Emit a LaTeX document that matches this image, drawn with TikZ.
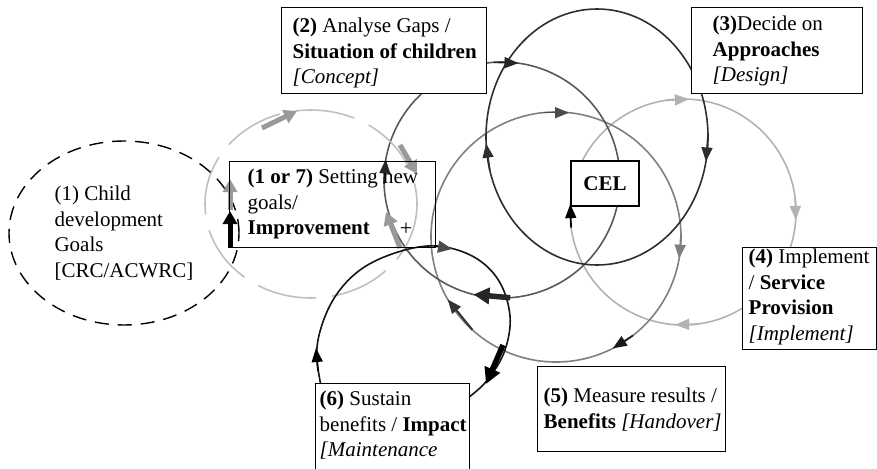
\documentclass[tikz,border=0pt]{standalone}
\usepackage{fontspec}
\setmainfont{Liberation Serif}
\usetikzlibrary{arrows.meta,calc,shapes.geometric}

% text block of a step box: width, height, left pad, drop to first baseline, lines
\newcommand{\stepcell}[5]{%
  \parbox[c][#2][t]{#1}{\raggedright\leftskip=#3\relax\rule{0pt}{#4}#5}}

\begin{document}
\begin{tikzpicture}[x=1pt,y=-1pt,
  font=\fontsize{21}{25.5}\selectfont,
  loopline/.style={line width=1.6pt},
  tip/.style={line width=1.6pt,-{Triangle[length=14pt,width=11pt]}},
  fatarrow/.style={line width=5.5pt,-{Triangle[length=16pt,width=16pt]}},
  grayarrow/.style={line width=5pt,black!40,-{Triangle[length=13pt,width=14pt]}},
  stepbox/.style={draw,line width=1.4pt,fill=white,inner sep=0pt,anchor=north west}]
\useasboundingbox (0,0) rectangle (877,468);

% centres of the cycles
\coordinate (c3) at (597,137);
\coordinate (cD) at (502,180);
\coordinate (cE) at (556,237);
\coordinate (cF) at (683,212);
\coordinate (cB) at (311,204);

% the cycles
\draw[loopline,black!30] (cF) circle (113);
\draw[loopline,black!50] (cE) circle (125);
\draw[loopline,black!65] (cD) circle (118);
\draw[loopline,black!82] (c3) ellipse (111 and 128);
\draw[loopline,black!25,dash pattern=on 60pt off 16pt] (cB) ellipse (106 and 94);
\draw[loopline,black!92] plot[smooth cycle,tension=0.6] coordinates {
  (437,246) (474,257) (499,281) (510,316) (505,350) (489,378) (468,398)
  (430,425) (370,428) (330,405) (319,375) (318,340) (333,300) (360,270) (398,252)};

% goals ellipse
\node[ellipse,draw,line width=1.4pt,dash pattern=on 14pt off 9pt,
      minimum width=230pt,minimum height=184pt,align=left] (goals) at (124,233)
  {(1) Child\\development\\Goals\\{[CRC/ACWRC]}};

% direction marks on the cycles
\draw[tip,black!82] ($(c3)+(165:111 and 128)$) -- ($(c3)+(177:111 and 128)$);
\draw[tip,black!82] ($(c3)+(-1:111 and 128)$) -- ($(c3)+(11:111 and 128)$);
\draw[tip,black!85] ($(cD)+(266:118)$) -- ($(cD)+(278:118)$);
\draw[tip,black!85] ($(cD)+(178:118)$) -- ($(cD)+(190:118)$);
\draw[fatarrow,black!85] ($(cD)+(86:118)$) -- ($(cD)+(104:118)$);
\draw[tip,black!70] ($(cE)+(264:125)$) -- ($(cE)+(276:125)$);
\draw[tip,black!50] ($(cE)+(-1:125)$) -- ($(cE)+(10:125)$);
\draw[tip,black!90] ($(cE)+(52:125)$) -- ($(cE)+(63:125)$);
\draw[tip,black!80,line width=2pt] ($(cE)+(132:125)$) -- ($(cE)+(150:125)$);
\draw[tip,black!30] ($(cF)+(261:113)$) -- ($(cF)+(273:113)$);
\draw[tip,black!30] ($(cF)+(-7:113)$) -- ($(cF)+(4:113)$);
\draw[tip,black!30] ($(cF)+(83:113)$) -- ($(cF)+(94:113)$);
\draw[tip,black] ($(cF)+(172:113)$) -- ($(cF)+(184:113)$);
\draw[tip,black] (318,371) -- (316,348);
\draw[loopline,black,-{Triangle[length=14pt,width=12pt,color=black!70]}] (434,246) -- (452,249);
\draw[fatarrow,black] (503,345) -- (486,384);

% arrows of the improvement cycle
\draw[grayarrow] (262,128) -- (297,111);
\draw[grayarrow] (400,145) -- (417,174);
\draw[grayarrow] (400,248) -- (386,212);
\draw[grayarrow] (230,210) -- (230,179);
\draw[grayarrow,black] (230,248) -- (230,211);

% step boxes
\node[stepbox] (step2) at (281,7)
  {\stepcell{205pt}{86pt}{11pt}{25pt}{\textbf{(2)} Analyse Gaps /\\\textbf{Situation of children}\\\textit{[Concept]}}};
\node[stepbox,fill=none] (step17) at (229,161)
  {\stepcell{206pt}{86pt}{18pt}{22pt}{\textbf{(1 or 7)} Setting new\\goals/\\\textbf{Improvement}}};
\node[stepbox] (step3) at (691,7)
  {\stepcell{171pt}{86pt}{21pt}{23pt}{\textbf{(3)}Decide on\\\textbf{Approaches}\\\textit{[Design]}}};
\node[stepbox] (step4) at (742,247)
  {\stepcell{134pt}{102pt}{6pt}{16pt}{\textbf{(4)} Implement\\/ \textbf{Service}\\\textbf{Provision}\\\textit{[Implement]}}};
\node[stepbox] (step5) at (537,366)
  {\stepcell{188pt}{85pt}{6pt}{36pt}{\textbf{(5)} Measure results /\\\textbf{Benefits} \textit{[Handover]}}};
\node[stepbox] (step6) at (315,383)
  {\stepcell{154pt}{120pt}{4pt}{22pt}{\textbf{(6)} Sustain\\benefits / \textbf{Impact}\\\textit{[Maintenance}}};
\node[draw,line width=1.4pt,fill=white,inner sep=0pt,minimum width=68pt,minimum height=45pt]
  (cel) at (605,183.5) {\textbf{CEL}};
\node[font=\fontsize{22}{22}\selectfont] (plus) at (406,229) {+};
\end{tikzpicture}
\end{document}
